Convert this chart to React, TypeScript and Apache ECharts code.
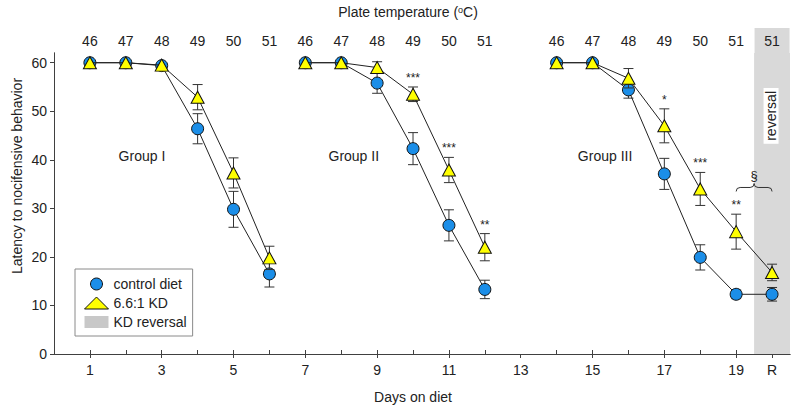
import React, { useEffect, useRef } from "react";
import * as echarts from "echarts";

// ---- data ----
const groupIDays = [1, 2, 3, 4, 5, 6];
const groupIIDays = [7, 8, 9, 10, 11, 12];
const groupIIIDays = [14, 15, 16, 17, 18, 19, 20];

const controlI = [60, 60, 59.4, 46.4, 29.8, 16.5];
const controlISem = [0, 0, 0, 3.1, 3.7, 2.7];
const kdI = [60, 60, 59.5, 52.9, 37.3, 19.8];
const kdISem = [0, 0, 0, 2.6, 3.1, 2.4];

const controlII = [60, 60, 55.8, 42.3, 26.5, 13.3];
const controlIISem = [0, 0, 2.1, 3.3, 3.2, 1.9];
const kdII = [60, 60, 59.0, 53.5, 37.9, 22.0];
const kdIISem = [0, 0, 1.2, 1.5, 2.6, 2.8];

const controlIII = [60, 60, 54.4, 37.1, 19.9, 12.3, 12.3];
const controlIIISem = [0, 0, 1.7, 3.2, 2.6, 0.9, 1.4];
const kdIII = [60, 60, 56.8, 47.0, 34.0, 25.2, 16.8];
const kdIIISem = [0, 0, 2.0, 3.5, 3.4, 3.6, 1.7];

const bottomTickDays = [1, 3, 5, 7, 9, 11, 13, 15, 17, 19, 20];
const bottomTickLabels = ["1", "3", "5", "7", "9", "11", "13", "15", "17", "19", "R"];

const topTickDays = [1, 2, 3, 4, 5, 6, 7, 8, 9, 10, 11, 12, 14, 15, 16, 17, 18, 19, 20];
const topTickTemps = [46, 47, 48, 49, 50, 51, 46, 47, 48, 49, 50, 51, 46, 47, 48, 49, 50, 51, 51];

const yTicks = [0, 10, 20, 30, 40, 50, 60];
const yMax = 62;

const sigDays = [10, 11, 12, 17, 18, 19];
const sigLabels = ["***", "***", "**", "*", "***", "**"];

const reversalDay = 20;
const reversalText = "reversal";
const groupNames = ["Group I", "Group II", "Group III"];
const groupNamePos = [
  [2.45, 40.7],
  [8.35, 40.7],
  [15.35, 40.7],
];
const bracePos = [[19, 20, 34.3]];

// ---- styles ----
const FONT = "'Liberation Sans', Arial, Helvetica, sans-serif";
const BLUE = "#1b8ee8";
const YELLOW = "#ffff00";
const GRAY = "#d9d9d9";
const TEXT = "#222";
const AXIS = "#404040";

function pts(days: number[], vals: number[]) {
  return days.map((d, i) => [d, vals[i]]);
}
function errs(days: number[], vals: number[], sem: number[]) {
  return days.map((d, i) => [d, vals[i] - sem[i], vals[i] + sem[i]]);
}

function errorRender(_params: any, api: any) {
  const x = api.value(0);
  const lo = api.value(1);
  const hi = api.value(2);
  if (hi - lo < 0.05) return { type: "group", children: [] };
  const t = api.coord([x, hi]);
  const b = api.coord([x, lo]);
  const hw = 5;
  const style = { stroke: "#333", lineWidth: 1, fill: null };
  return {
    type: "group",
    children: [
      { type: "line", shape: { x1: t[0], y1: t[1], x2: b[0], y2: b[1] }, style },
      { type: "line", shape: { x1: t[0] - hw, y1: t[1], x2: t[0] + hw, y2: t[1] }, style },
      { type: "line", shape: { x1: b[0] - hw, y1: b[1], x2: b[0] + hw, y2: b[1] }, style },
    ],
  };
}

export default function App() {
  const ref = useRef<HTMLDivElement>(null);

  useEffect(() => {
    if (!ref.current) return;
    const chart = echarts.init(ref.current, undefined, { renderer: "svg" });

    const allKdDays = [...groupIDays, ...groupIIDays, ...groupIIIDays];
    const allKd = [...kdI, ...kdII, ...kdIII];
    const allKdSem = [...kdISem, ...kdIISem, ...kdIIISem];
    const sigData = sigDays.map((d) => {
      const i = allKdDays.indexOf(d);
      return [d, allKd[i] + allKdSem[i]];
    });

    const lineCommon = (name: string, isKd: boolean) => ({
      type: "line",
      name,
      xAxisIndex: 0,
      yAxisIndex: 0,
      symbol: isKd ? "triangle" : "circle",
      symbolSize: isKd ? [13, 12] : 12,
      lineStyle: { color: "#222", width: 1 },
      itemStyle: { color: isKd ? YELLOW : BLUE, borderColor: "#111", borderWidth: 1 },
      emphasis: { disabled: true },
      z: isKd ? 6 : 4,
    });
    const errCommon = (isKd: boolean) => ({
      type: "custom",
      xAxisIndex: 0,
      yAxisIndex: 0,
      renderItem: errorRender,
      encode: { x: 0, y: [1, 2] },
      silent: true,
      z: isKd ? 5 : 3,
    });

    const option: any = {
      animation: false,
      textStyle: { fontFamily: FONT },
      grid: { left: 54, right: 10, top: 53, bottom: 57, containLabel: false },
      legend: {
        left: 75,
        top: 269,
        orient: "vertical",
        itemWidth: 24,
        itemHeight: 12,
        itemGap: 5,
        padding: [8, 6, 7, 9],
        borderColor: "#8a8a8a",
        borderWidth: 1,
        borderRadius: 0,
        selectedMode: false,
        textStyle: { fontFamily: FONT, fontSize: 14, color: TEXT },
        data: [
          { name: "control diet", icon: "circle", itemStyle: { color: BLUE, borderColor: "#111", borderWidth: 1 } },
          { name: "6.6:1 KD", icon: "triangle", itemStyle: { color: YELLOW, borderColor: "#111", borderWidth: 1 } },
          { name: "KD reversal", icon: "rect", itemStyle: { color: "#c8c8c8", borderWidth: 0 } },
        ],
      },
      graphic: [
        {
          type: "text",
          x: 408,
          y: 12,
          style: {
            text: "Plate temperature ({s|o}C)",
            fontFamily: FONT,
            fontSize: 14,
            fill: TEXT,
            align: "center",
            verticalAlign: "middle",
            rich: { s: { fontSize: 9, verticalAlign: "top", fontFamily: FONT, fill: TEXT } },
          },
        },
        {
          type: "text",
          x: 413,
          y: 397,
          style: { text: "Days on diet", fontFamily: FONT, fontSize: 14, fill: TEXT, align: "center", verticalAlign: "middle" },
        },
        {
          type: "text",
          x: 17,
          y: 176,
          rotation: Math.PI / 2,
          style: {
            text: "Latency to nocifensive behavior",
            fontFamily: FONT,
            fontSize: 14,
            fill: TEXT,
            align: "center",
            verticalAlign: "middle",
          },
        },
      ],
      xAxis: [
        {
          type: "value",
          position: "bottom",
          min: 0,
          max: 20.5,
          splitLine: { show: false },
          axisLine: { lineStyle: { color: AXIS } },
          axisTick: { customValues: bottomTickDays, length: 4, lineStyle: { color: AXIS } },
          axisLabel: {
            customValues: bottomTickDays,
            margin: 9,
            fontSize: 14,
            color: TEXT,
            fontFamily: FONT,
            formatter: (v: number) => {
              const i = bottomTickDays.indexOf(v);
              return i >= 0 ? bottomTickLabels[i] : "";
            },
          },
        },
        {
          type: "value",
          position: "top",
          min: 0,
          max: 20.5,
          splitLine: { show: false },
          axisLine: { lineStyle: { color: AXIS } },
          axisTick: { customValues: topTickDays, length: 4, lineStyle: { color: AXIS } },
          axisLabel: {
            customValues: topTickDays,
            margin: 0,
            fontSize: 14,
            color: TEXT,
            fontFamily: FONT,
            formatter: (v: number) => {
              const i = topTickDays.indexOf(v);
              if (i < 0) return "";
              return v === reversalDay ? `{g|${topTickTemps[i]}}` : `{n|${topTickTemps[i]}}`;
            },
            rich: {
              n: { height: 25, fontSize: 14, color: TEXT, fontFamily: FONT },
              g: { height: 25, width: 35, align: "center", backgroundColor: GRAY, fontSize: 14, color: TEXT, fontFamily: FONT },
            },
          },
        },
      ],
      yAxis: [
        {
          type: "value",
          min: 0,
          max: yMax,
          splitLine: { show: false },
          axisLine: { show: true, lineStyle: { color: AXIS } },
          axisTick: { show: true, customValues: yTicks, length: 4, lineStyle: { color: AXIS } },
          axisLabel: { customValues: yTicks, fontSize: 14, color: TEXT, fontFamily: FONT, margin: 7 },
        },
        {
          type: "value",
          position: "right",
          min: 0,
          max: yMax,
          splitLine: { show: false },
          axisLine: { show: true, lineStyle: { color: AXIS } },
          axisTick: { show: false },
          axisLabel: { show: false },
        },
      ],
      series: [
        { ...errCommon(false), data: errs(groupIDays, controlI, controlISem) },
        { ...errCommon(false), data: errs(groupIIDays, controlII, controlIISem) },
        { ...errCommon(false), data: errs(groupIIIDays, controlIII, controlIIISem) },
        {
          ...lineCommon("control diet", false),
          data: pts(groupIDays, controlI),
          markArea: {
            silent: true,
            itemStyle: { color: GRAY },
            label: { show: false },
            data: [[{ xAxis: reversalDay - 0.5 }, { xAxis: reversalDay + 0.5 }]],
          },
        },
        { ...lineCommon("control diet", false), data: pts(groupIIDays, controlII) },
        { ...lineCommon("control diet", false), data: pts(groupIIIDays, controlIII) },
        { ...errCommon(true), data: errs(groupIDays, kdI, kdISem) },
        { ...errCommon(true), data: errs(groupIIDays, kdII, kdIISem) },
        { ...errCommon(true), data: errs(groupIIIDays, kdIII, kdIIISem) },
        { ...lineCommon("6.6:1 KD", true), data: pts(groupIDays, kdI) },
        { ...lineCommon("6.6:1 KD", true), data: pts(groupIIDays, kdII) },
        { ...lineCommon("6.6:1 KD", true), data: pts(groupIIIDays, kdIII) },
        {
          type: "line",
          name: "KD reversal",
          data: [],
          itemStyle: { color: "#c8c8c8" },
        },
        {
          type: "custom",
          silent: true,
          z: 7,
          data: [[reversalDay, yMax]],
          encode: { x: 0, y: 1 },
          renderItem: (_params: any, api: any) => {
            const p = api.coord([api.value(0), api.value(1)]);
            return {
              type: "text",
              x: p[0] - 1,
              y: p[1] + 35,
              rotation: Math.PI / 2,
              style: {
                text: reversalText,
                fontFamily: FONT,
                fontSize: 14,
                fill: TEXT,
                align: "right",
                verticalAlign: "middle",
                backgroundColor: "#ffffff",
                padding: [0, 3, 0, 3],
                lineHeight: 15,
              },
            };
          },
        },
        {
          type: "custom",
          silent: true,
          z: 7,
          data: sigData,
          encode: { x: 0, y: 1 },
          renderItem: (params: any, api: any) => {
            const p = api.coord([api.value(0), api.value(1)]);
            return {
              type: "text",
              x: p[0],
              y: p[1] - 3,
              style: {
                text: sigLabels[params.dataIndex],
                fontFamily: FONT,
                fontSize: 12,
                fill: TEXT,
                align: "center",
                verticalAlign: "bottom",
              },
            };
          },
        },
        {
          type: "custom",
          silent: true,
          z: 7,
          data: groupNamePos,
          encode: { x: 0, y: 1 },
          renderItem: (params: any, api: any) => {
            const p = api.coord([api.value(0), api.value(1)]);
            return {
              type: "text",
              x: p[0],
              y: p[1],
              style: {
                text: groupNames[params.dataIndex],
                fontFamily: FONT,
                fontSize: 14,
                fill: TEXT,
                align: "center",
                verticalAlign: "middle",
              },
            };
          },
        },
        {
          type: "custom",
          silent: true,
          z: 7,
          data: bracePos,
          encode: { x: [0, 1], y: 2 },
          renderItem: (_params: any, api: any) => {
            const a = api.coord([api.value(0), api.value(2)]);
            const b = api.coord([api.value(1), api.value(2)]);
            const y = a[1];
            const x1 = a[0];
            const x2 = b[0];
            const xm = (x1 + x2) / 2;
            const h = 4;
            const d = `M${x1},${y + h} Q${x1},${y} ${x1 + h},${y} L${xm - h},${y} Q${xm},${y} ${xm},${y - h} Q${xm},${y} ${xm + h},${y} L${x2 - h},${y} Q${x2},${y} ${x2},${y + h}`;
            return {
              type: "group",
              children: [
                {
                  type: "path",
                  shape: { pathData: d, x: x1, y: y - h, width: x2 - x1, height: 2 * h, layout: "cover" },
                  style: { stroke: "#333", fill: null, lineWidth: 1 },
                },
                {
                  type: "text",
                  x: xm,
                  y: y - h - 1,
                  style: { text: "§", fontFamily: FONT, fontSize: 13, fill: TEXT, align: "center", verticalAlign: "bottom" },
                },
              ],
            };
          },
        },
      ],
    };

    chart.setOption(option);
    return () => chart.dispose();
  }, []);

  return <div ref={ref} style={{ width: 800, height: 411, position: "absolute", left: 0, top: 0 }} />;
}
